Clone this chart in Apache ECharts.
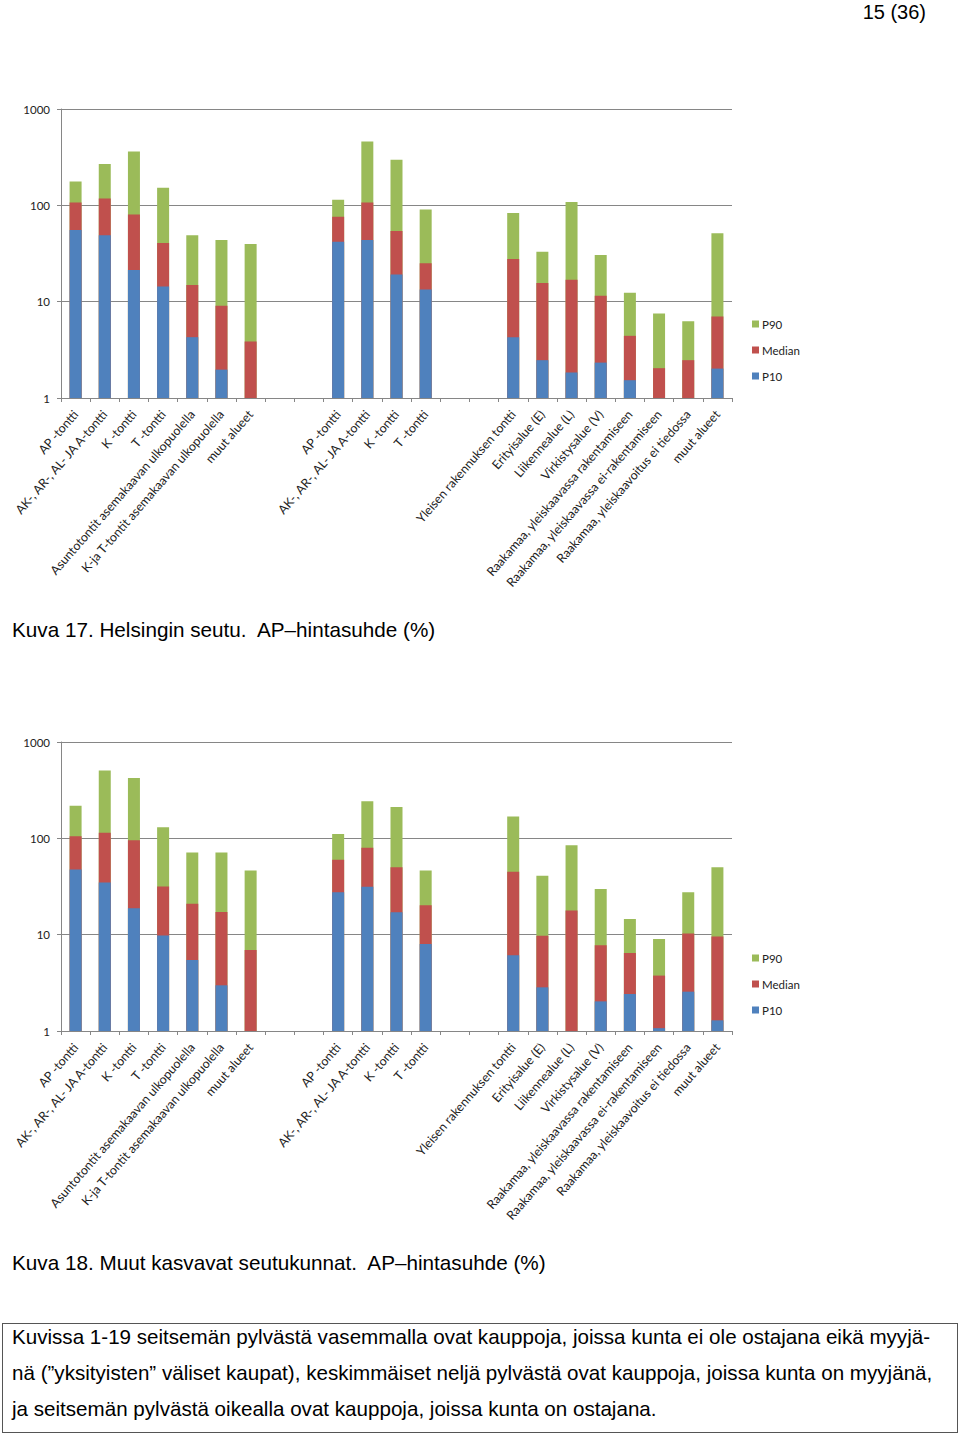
<!DOCTYPE html>
<html>
<head>
<meta charset="utf-8">
<script src="https://cdn.jsdelivr.net/npm/echarts@6/dist/echarts.min.js"></script>
<style>
  html, body { margin: 0; padding: 0; background: #fff; }
  #page { position: relative; width: 960px; height: 1435px; overflow: hidden; }
  #chart { position: absolute; left: 0; top: 0; width: 960px; height: 1435px; }
  .t { position: absolute; font-family: "Liberation Sans", Arial, sans-serif; font-size: 20.7px; color: #000; white-space: pre; line-height: 24px; }
  #box { position: absolute; left: 2px; top: 1323px; width: 954px; height: 108px; border: 1.5px solid #555; }
</style>
</head>
<body>
<div id="page">
  <div id="chart"></div>
  <div class="t" style="right:34px; top:0px; font-size:20px;">15 (36)</div>
  <div class="t" style="left:12px; top:618px;">Kuva 17. Helsingin seutu.  AP–hintasuhde (%)</div>
  <div class="t" style="left:12px; top:1251px;">Kuva 18. Muut kasvavat seutukunnat.  AP–hintasuhde (%)</div>
  <div id="box"></div>
  <div class="t" style="left:12px; top:1319px; line-height:36px; font-size:20.6px;">Kuvissa 1-19 seitsemän pylvästä vasemmalla ovat kauppoja, joissa kunta ei ole ostajana eikä myyjä-
nä (”yksityisten” väliset kaupat), keskimmäiset neljä pylvästä ovat kauppoja, joissa kunta on myyjänä,
ja seitsemän pylvästä oikealla ovat kauppoja, joissa kunta on ostajana.</div>
</div>
<script>
const categories = [
  "AP -tontti", "AK-, AR-, AL- JA A-tontti", "K -tontti", "T -tontti",
  "Asuntotontit asemakaavan ulkopuolella", "K-ja T-tontit asemakaavan ulkopuolella", "muut alueet",
  "", "",
  "AP -tontti", "AK-, AR-, AL- JA A-tontti", "K -tontti", "T -tontti",
  "", "",
  "Yleisen rakennuksen tontti", "Erityisalue (E)", "Liikennealue (L)", "Virkistysalue (V)",
  "Raakamaa, yleiskaavassa rakentamiseen", "Raakamaa, yleiskaavassa ei-rakentamiseen",
  "Raakamaa, yleiskaavoitus ei tiedossa", "muut alueet"
];
const yTicks = [1, 10, 100, 1000];

// Kuva 17. Helsingin seutu
const p10_1 = [55.6, 48.9, 21.3, 14.4, 4.28, 1.97, null, null, null, 42.0, 43.7, 19.2, 13.4, null, null, 4.28, 2.47, 1.84, 2.33, 1.53, null, null, 2.02];
const med_1 = [107, 118, 80.2, 40.7, 14.9, 9.06, 3.86, null, null, 75.9, 107, 54.2, 25.0, null, null, 27.7, 15.6, 16.9, 11.5, 4.42, 2.04, 2.47, 7.02];
const p90_1 = [177, 268, 363, 152, 48.9, 43.7, 39.7, null, null, 114, 461, 297, 90.4, null, null, 83.5, 33.0, 108, 30.5, 12.4, 7.54, 6.28, 51.3];

// Kuva 18. Muut kasvavat seutukunnat
const p10_2 = [47.5, 34.8, 18.8, 9.79, 5.47, 2.98, null, null, null, 27.6, 31.4, 17.1, 8.02, null, null, 6.11, 2.84, null, 2.03, 2.42, 1.07, 2.56, 1.29];
const med_2 = [105, 114, 95.8, 31.6, 20.9, 17.2, 6.95, null, null, 59.8, 79.8, 50.2, 20.2, null, null, 44.9, 9.72, 17.8, 7.77, 6.47, 3.76, 10.3, 9.55];
const p90_2 = [218, 507, 422, 130, 71.3, 71.3, 46.4, null, null, 111, 242, 211, 46.4, null, null, 169, 40.8, 85.0, 29.7, 14.5, 9.03, 27.6, 50.2];

const C_P90 = '#9BBB59', C_MED = '#C0504D', C_P10 = '#4F81BD';
const AX = '#868686';
const clean = a => a.map(v => v == null ? '-' : v);

function xAx(i) {
  return {
    type: 'category', gridIndex: i, data: categories,
    axisLine: { show: true, onZero: false, lineStyle: { color: AX, width: 1 } },
    axisTick: { show: true, alignWithLabel: false, length: 4, lineStyle: { color: AX } },
    axisLabel: { interval: 0, rotate: 49, margin: 14, fontFamily: 'Lato', fontSize: 12.4, color: '#222' },
    splitLine: { show: false }
  };
}
function yAx(i) {
  return {
    type: 'log', logBase: 10, gridIndex: i, min: yTicks[0], max: yTicks[yTicks.length - 1],
    axisLine: { show: true, lineStyle: { color: AX, width: 1 } },
    axisTick: { show: true, length: 4, lineStyle: { color: AX } },
    axisLabel: { margin: 11, fontFamily: 'Lato', fontSize: 11.5, color: '#222', formatter: v => String(Math.round(v)) },
    splitLine: { show: true, lineStyle: { color: AX, width: 1 } },
    minorTick: { show: false }
  };
}
function bars(i, p90, med, p10) {
  const base = { type: 'bar', xAxisIndex: i, yAxisIndex: i, barWidth: 12, barGap: '-100%', animation: false };
  return [
    Object.assign({}, base, { name: 'P90', data: clean(p90), itemStyle: { color: C_P90 } }),
    Object.assign({}, base, { name: 'Median', data: clean(med), itemStyle: { color: C_MED } }),
    Object.assign({}, base, { name: 'P10', data: clean(p10), itemStyle: { color: C_P10 } })
  ];
}
function legend(top) {
  return {
    orient: 'vertical', left: 747, top: top, itemWidth: 7, itemHeight: 7, itemGap: 12,
    icon: 'rect', selectedMode: false,
    textStyle: { fontFamily: 'Lato', fontSize: 11.5, color: '#222', lineHeight: 14, padding: [0, 0, 0, -2] },
    data: ['P90', 'Median', 'P10']
  };
}

const chart = echarts.init(document.getElementById('chart'), null, { renderer: 'svg', width: 960, height: 1435 });
chart.setOption({
  animation: false,
  backgroundColor: '#fff',
  grid: [
    { left: 61, top: 109, width: 671, height: 289 },
    { left: 61, top: 742, width: 671, height: 289 }
  ],
  legend: [legend(312), legend(946)],
  xAxis: [xAx(0), xAx(1)],
  yAxis: [yAx(0), yAx(1)],
  series: [].concat(bars(0, p90_1, med_1, p10_1), bars(1, p90_2, med_2, p10_2))
});
</script>
</body>
</html>
